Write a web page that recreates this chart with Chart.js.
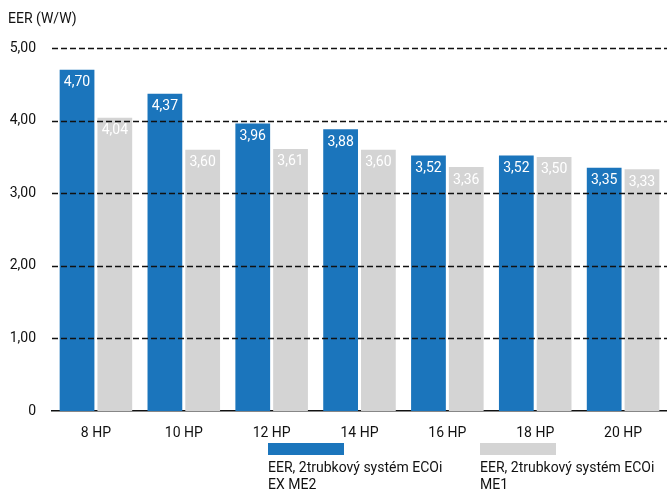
<!DOCTYPE html>
<html>
<head>
<meta charset="utf-8">
<script src="https://cdn.jsdelivr.net/npm/chart.js@4/dist/chart.umd.min.js"></script>
<style>
  body { margin: 0; background: #fff; font-family: Roboto, sans-serif; }
  #wrap { position: relative; width: 667px; height: 491px; }
  #title { position: absolute; left: 8px; top: 10px; font-size: 14px; color: #111; }
  .leg { position: absolute; top: 443px; font-size: 14px; line-height: 17px; color: #111; }
  .leg .box { width: 76px; height: 12px; margin-bottom: 4px; }
</style>
</head>
<body>
<div id="wrap">
  <canvas id="eer-chart" width="667" height="491"></canvas>
  <div id="title">EER (W/W)</div>
  <div class="leg" style="left:268px"><div class="box" style="background:#1b75bc"></div>EER, 2trubkový systém ECOi<br>EX ME2</div>
  <div class="leg" style="left:480px"><div class="box" style="background:#d4d4d4"></div>EER, 2trubkový systém ECOi<br>ME1</div>
</div>
<script>
// Chart data
const categories = ['8 HP', '10 HP', '12 HP', '14 HP', '16 HP', '18 HP', '20 HP'];
const exMe2 = [4.70, 4.37, 3.96, 3.88, 3.52, 3.52, 3.35];
const me1 = [4.04, 3.60, 3.61, 3.60, 3.36, 3.50, 3.33];
const yTicks = [0, 1, 2, 3, 4, 5];

const fmt = v => v === 0 ? '0' : v.toFixed(2).replace('.', ',');

// Dashed grid over the bars, then the value labels
const overlay = {
  id: 'overlay',
  afterDatasetsDraw(chart) {
    const ctx = chart.ctx;
    const y = chart.scales.y;
    const area = chart.chartArea;
    ctx.save();
    ctx.strokeStyle = '#111';
    ctx.lineWidth = 1.5;
    yTicks.forEach(t => {
      if (t === 0) return;
      const py = Math.round(y.getPixelForValue(t)) + 0.5;
      ctx.setLineDash([6, 3]);
      ctx.beginPath();
      ctx.moveTo(area.left, py);
      ctx.lineTo(area.right, py);
      ctx.stroke();
    });
    ctx.setLineDash([]);
    ctx.font = '14px Roboto';
    ctx.fillStyle = '#fff';
    ctx.textAlign = 'center';
    ctx.textBaseline = 'middle';
    chart.data.datasets.forEach((ds, i) => {
      chart.getDatasetMeta(i).data.forEach((bar, j) => {
        ctx.fillText(fmt(ds.data[j]), bar.x, bar.y + 13);
      });
    });
    ctx.restore();
  }
};

new Chart('eer-chart', {
  type: 'bar',
  data: {
    labels: categories,
    datasets: [
      { label: 'EER, 2trubkový systém ECOi EX ME2', data: exMe2, backgroundColor: '#1b75bc', barPercentage: 0.92, categoryPercentage: 0.86 },
      { label: 'EER, 2trubkový systém ECOi ME1', data: me1, backgroundColor: '#d4d4d4', barPercentage: 0.92, categoryPercentage: 0.86 }
    ]
  },
  options: {
    responsive: false,
    animation: false,
    layout: { padding: { top: 48, left: 0, right: 0, bottom: 0 } },
    plugins: { legend: { display: false }, tooltip: { enabled: false } },
    scales: {
      x: {
        grid: { display: false },
        border: { color: '#111', width: 1.5 },
        ticks: { color: '#111', font: { family: 'Roboto', size: 14 }, padding: 6 },
        afterFit: s => { s.height = 80; }
      },
      y: {
        min: 0, max: 5,
        grid: { display: false },
        border: { display: false },
        ticks: { stepSize: 1, color: '#111', font: { family: 'Roboto', size: 14 }, padding: 8, callback: v => fmt(v) },
        afterFit: s => { s.width = 52; }
      }
    }
  },
  plugins: [overlay]
});
</script>
</body>
</html>
